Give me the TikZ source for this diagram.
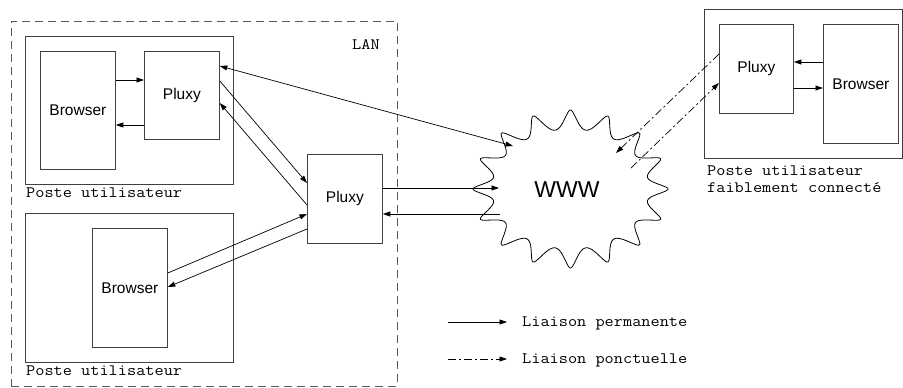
\documentclass[tikz,border=0pt]{standalone}
\usepackage{fontspec}
\setmainfont{Liberation Sans}
\setmonofont{Latin Modern Mono}[FakeStretch=1.12]
\usetikzlibrary{arrows.meta}
\tikzset{
  boxline/.style={draw=black!75, line width=0.8pt},
  comp/.style={boxline, rectangle, inner sep=0pt, anchor=north west,
               font=\fontsize{15.5}{17}\selectfont},
  poste/.style={boxline, rectangle, inner sep=0pt, anchor=north west},
  lbl/.style={inner sep=0pt, anchor=base west, font=\ttfamily\fontsize{15.9}{17}\selectfont},
  arr/.style={line width=0.7pt, -{Triangle[length=7.5pt,width=5pt]}},
  biarr/.style={line width=0.7pt, {Triangle[length=7.5pt,width=5pt]}-{Triangle[length=7.5pt,width=5pt]}},
  dotdash/.style={line width=0.7pt, dash pattern=on 8pt off 3pt on 2pt off 3pt,
                  -{Triangle[length=7.5pt,width=5pt]}},
  lanbox/.style={draw=black!65, line width=0.8pt, dash pattern=on 8pt off 5pt,
                 rectangle, inner sep=0pt, anchor=north west},
}
\begin{document}
\begin{tikzpicture}[x=1pt, y=-1pt]
\useasboundingbox (0,0) rectangle (903,388);

% LAN
\node[lanbox, minimum width=386pt, minimum height=365pt] (lan) at (11,21) {};
\node[lbl] (lanlbl) at (352,49.5) {LAN};

% top user station
\node[poste, minimum width=208pt, minimum height=148pt] (u1) at (25,36) {};
\node[comp, minimum width=75pt, minimum height=118pt] (b1) at (40,51) {Browser};
\node[comp, minimum width=75pt, minimum height=88pt] (p1) at (144,51) {Pluxy};
\node[lbl] (u1lbl) at (26,197.5) {Poste utilisateur};

% bottom user station
\node[poste, minimum width=208pt, minimum height=149pt] (u2) at (25,213) {};
\node[comp, minimum width=75pt, minimum height=119pt] (b2) at (92,228) {Browser};
\node[lbl] (u2lbl) at (26,375.5) {Poste utilisateur};

% central proxy
\node[comp, minimum width=75pt, minimum height=89pt] (p0) at (307,154) {Pluxy};

% remote station
\node[poste, minimum width=198pt, minimum height=149pt] (u3) at (704,9) {};
\node[comp, minimum width=74pt, minimum height=89pt] (p3) at (719,24) {Pluxy};
\node[comp, minimum width=75pt, minimum height=119pt] (b3) at (823,24) {Browser};
\node[inner sep=0pt, anchor=north west, align=left,
      font=\ttfamily\fontsize{15.9}{17}\selectfont] (u3lbl) at (707,166)
      {Poste utilisateur\\faiblement connecté};

% cloud
\draw[line width=0.8pt] plot[domain=0:360, samples=721, smooth, variable=\t]
  ({570.5 + (88 + 9.5*cos(16*\t))*cos(\t - 1.6*sin(16*\t))},
   {189 - (69.5 + 9.5*cos(16*\t))*sin(\t - 1.6*sin(16*\t))});
\node[font=\fontsize{23}{25}\selectfont, inner sep=0pt] (www) at (567,190) {WWW};

\coordinate (c1) at (499,188);
\coordinate (c2) at (500,214);
\coordinate (c3) at (513,146);
\coordinate (c4) at (616,153);
\coordinate (c5) at (631,168);

% connections inside top station
\draw[arr] ([yshift=-29pt]b1.north east) -- ([yshift=-29pt]p1.north west);
\draw[arr] ([yshift=-74pt]p1.north west) -- ([yshift=-74pt]b1.north east);

% top station <-> central proxy
\draw[arr] ([yshift=-30pt]p1.north east) -- ([yshift=-29pt]p0.north west);
\draw[arr] ([yshift=-51pt]p0.north west) -- ([yshift=-52pt]p1.north east);

% bottom browser <-> central proxy
\draw[arr] ([yshift=-45pt]b2.north east) -- ([yshift=-60pt]p0.north west);
\draw[arr] ([yshift=-75pt]p0.north west) -- ([yshift=-59pt]b2.north east);

% central proxy <-> WWW
\draw[arr] ([yshift=-34pt]p0.north east) -- (c1);
\draw[arr] (c2) -- ([yshift=-60pt]p0.north east);

% top pluxy <-> WWW
\draw[biarr] ([yshift=-15pt]p1.north east) -- (c3);

% remote station
\draw[arr] ([yshift=-38pt]b3.north west) -- ([yshift=-38pt]p3.north east);
\draw[arr] ([yshift=-64pt]p3.north east) -- ([yshift=-64pt]b3.north west);
\draw[dotdash] ([yshift=-30pt]p3.north west) -- (c4);
\draw[dotdash] (c5) -- ([yshift=-59pt]p3.north west);

% legend
\coordinate (l1a) at (448,322);
\coordinate (l1b) at (507,322);
\coordinate (l2a) at (448,359);
\coordinate (l2b) at (507,359);
\draw[arr] (l1a) -- (l1b);
\draw[dotdash] (l2a) -- (l2b);
\node[lbl] (leg1) at (522,326.5) {Liaison permanente};
\node[lbl] (leg2) at (522,363.5) {Liaison ponctuelle};
\end{tikzpicture}
\end{document}
